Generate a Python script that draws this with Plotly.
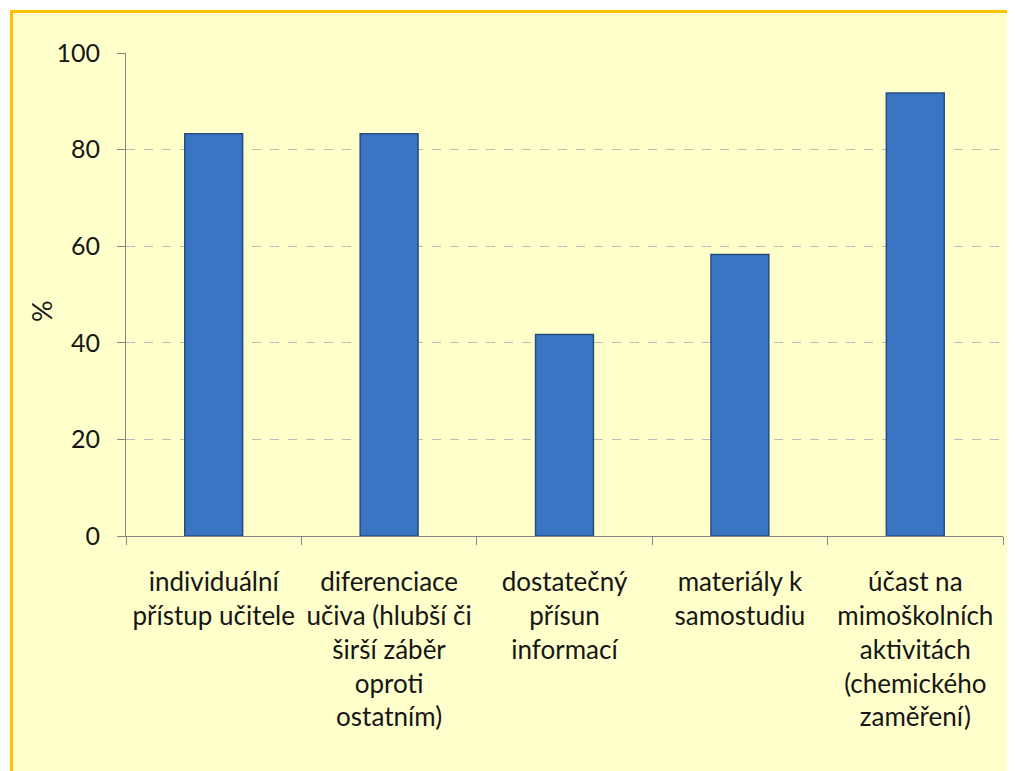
import plotly.graph_objects as go

categories = [
    "individuální<br>přístup učitele",
    "diferenciace<br>učiva (hlubší či<br>širší záběr<br>oproti<br>ostatním)",
    "dostatečný<br>přísun<br>informací",
    "materiály k<br>samostudiu",
    "účast na<br>mimoškolních<br>aktivitách<br>(chemického<br>zaměření)",
]
values = [83.3, 83.3, 41.7, 58.3, 91.7]
y_ticks = [0, 20, 40, 60, 80, 100]
y_title = "%"

FONT = "Lato"
OFF = 8  # page body margin
W, H = 1015 - OFF, 771 - OFF
L, T = 126 - OFF, 53 - OFF
R = W - (1003 - OFF)
B = H - (536 - OFF)
pw = W - L - R
ph = H - T - B

fig = go.Figure()
fig.add_trace(go.Bar(
    x=categories, y=values,
    marker=dict(color="#3A75C4", line=dict(color="#264C80", width=1.5)),
    width=0.33,
))

def px2x(p):
    return (p - OFF - L) / pw

def py2y(p):
    return (H - B - (p - OFF)) / ph

fig.add_shape(type="rect", xref="paper", yref="paper", layer="below",
              x0=px2x(11.5), x1=px2x(1040), y0=py2y(800), y1=py2y(11.5),
              fillcolor="#FFFFCC", line=dict(color="#FFC000", width=3))

fig.add_annotation(text=y_title, xref="paper", yref="paper",
                   x=px2x(41), y=py2y(311), xanchor="center", yanchor="middle",
                   showarrow=False, textangle=-90,
                   font=dict(size=27, color="#161616"))

fig.update_layout(
    width=W, height=H,
    margin=dict(l=L, r=R, t=T, b=B, pad=0),
    paper_bgcolor="white",
    plot_bgcolor="white",
    showlegend=False,
    font=dict(family=FONT, size=26, color="#161616"),
)
fig.update_yaxes(
    range=[0, 100], tickvals=y_ticks, ticks="outside", ticklen=8,
    tickcolor="#868686", showline=True, linecolor="#868686", linewidth=1,
    showgrid=True, gridcolor="#BBBBBB", griddash="dash", gridwidth=1,
    zeroline=False,
    ticklabelstandoff=12, tickfont=dict(size=25),
)
fig.update_xaxes(
    ticks="outside", tickson="boundaries", ticklen=8, tickcolor="#868686",
    showline=True, linecolor="#868686", linewidth=1, showgrid=False,
    tickangle=0, ticklabelstandoff=23, tickfont=dict(size=26),
)
fig.write_html("out.html")
